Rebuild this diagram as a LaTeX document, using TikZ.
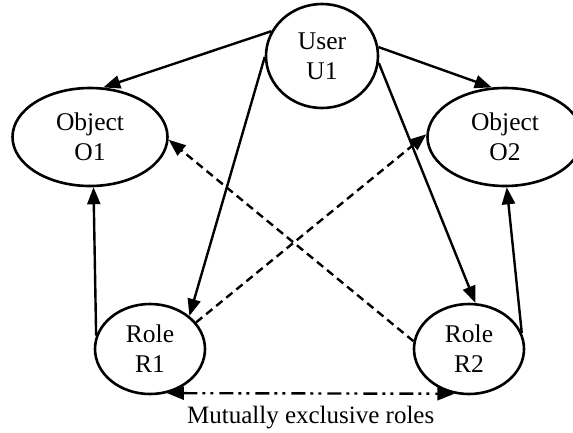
\documentclass[tikz,border=0pt]{standalone}
\usepackage{fontspec}
\setmainfont{Liberation Serif}
\usetikzlibrary{shapes.geometric, positioning, arrows.meta}
\tikzstyle{entity} = [draw, ellipse, line width=2.6pt, inner sep=0pt, align=center, font=\fontsize{25.5}{30}\selectfont]
\tikzstyle{arrow} = [line width=2.4pt,-{Triangle[length=17pt,width=13pt]}]
\tikzstyle{darrow} = [arrow, dash pattern=on 8pt off 5pt]

\begin{document}
\begin{tikzpicture}[x=1pt,y=-1pt]
        \useasboundingbox (0,0) rectangle (573,432);
        \node[entity, minimum width=112pt, minimum height=104pt] (u1) at (322,56) {User\\U1};
        \node[entity, minimum width=155pt, minimum height=98pt] (o1) at (90,137) {Object\\O1};
        \node[entity, minimum width=155pt, minimum height=98pt] (o2) at (505,137) {Object\\O2};
        \node[entity, minimum width=110pt, minimum height=90pt] (r1) at (150,349) {Role\\R1};
        \node[entity, minimum width=110pt, minimum height=90pt] (r2) at (469,349) {Role\\R2};
        \draw[arrow] (u1.154) -- (o1.75);
        \draw[arrow] (u1.9) -- (o2.105);
        \draw[arrow] (u1.181) -- (r1.40);
        \draw[arrow] (u1.-7) -- (r2.82);
        \draw[arrow] (r1.166) -- (o1.-86);
        \draw[arrow] (r2.17) -- (o2.-88);
        \draw[darrow] (r1.30) -- (o2.178);
        \draw[darrow] (r2.172) -- (o1.-2);
        % mutually exclusive roles
        \draw[line width=2.4pt, {Triangle[length=17pt,width=13pt]}-{Triangle[length=17pt,width=13pt]}, dash pattern=on 14pt off 5pt on 3pt off 5pt on 3pt off 6pt] (r1.-69) -- (r2.-108)
          node[midway, below=12pt, inner sep=0pt, font=\fontsize{25}{30}\selectfont] (lbl) {Mutually exclusive roles};
\end{tikzpicture}
\end{document}
